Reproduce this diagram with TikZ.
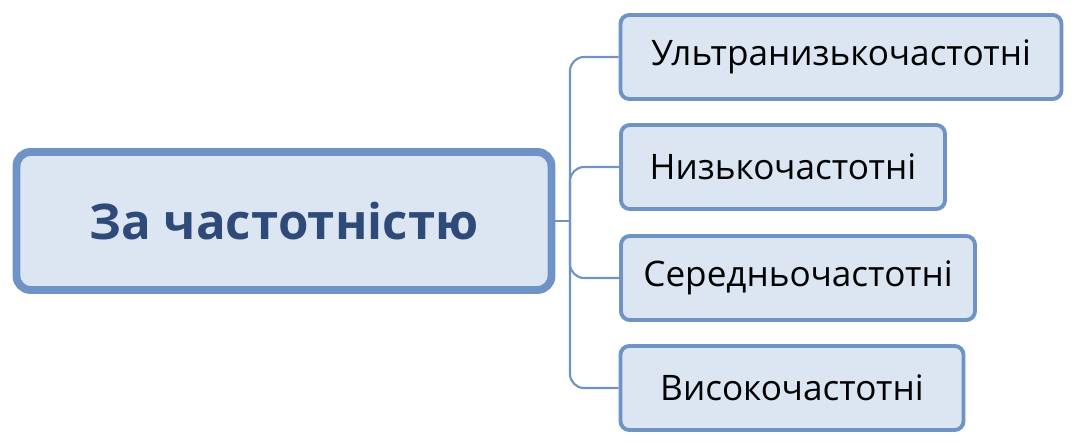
\documentclass[tikz,border=0pt]{standalone}
\usepackage{fontspec}
\setmainfont{Open Sans}
\definecolor{boxfill}{HTML}{DCE6F2}
\definecolor{boxline}{HTML}{6F93C6}
\definecolor{maintext}{HTML}{2E4A78}

\begin{document}
\begin{tikzpicture}[x=0.02cm,y=-0.02cm]
\tikzstyle{every node}=[font=\fontsize{20}{24}\selectfont]
\tikzset{leaf/.style={draw=boxline,line width=2.2pt,fill=boxfill,rounded corners=5pt,minimum height=84*0.02cm,inner sep=0pt}}
\useasboundingbox (0,0) rectangle (1080,443);
\node[leaf,line width=4.5pt,minimum width=535*0.02cm,minimum height=138*0.02cm,rounded corners=8pt,text=maintext,font=\fontsize{28}{32}\selectfont\bfseries] (main) at (284,221) {За частотністю};
\node[leaf,minimum width=441*0.02cm] (ultra) at (841,57) {Ультранизькочастотні};
\node[leaf,minimum width=324*0.02cm] (low) at (783,167) {Низькочастотні};
\node[leaf,minimum width=354*0.02cm] (mid) at (798,278) {Середньочастотні};
\node[leaf,minimum width=343*0.02cm] (high) at (792,388) {Високочастотні};
\coordinate (fork) at (570,221);
\draw[boxline,line width=1.2pt] (main.east) -- (fork);
\foreach \n in {ultra,low,mid,high}
  \draw[boxline,line width=1.2pt,rounded corners=8pt] (fork) |- (\n.west);
\end{tikzpicture}
\end{document}
